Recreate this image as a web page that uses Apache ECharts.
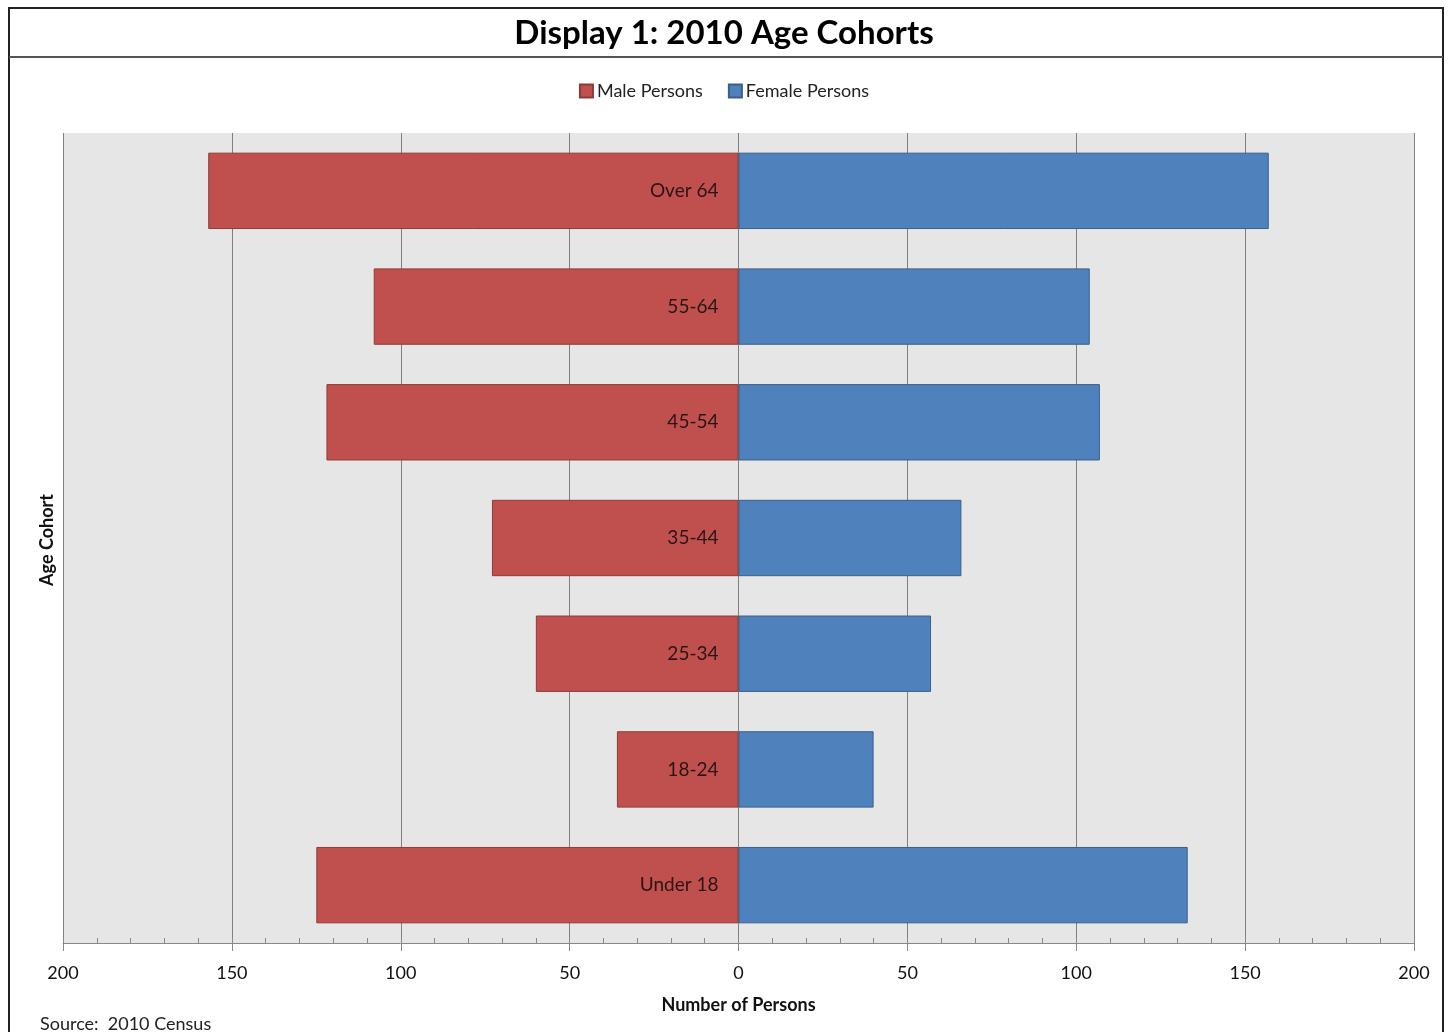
<!DOCTYPE html>
<html lang="en">
<head>
    <meta charset="UTF-8">
    <title>Display 1: 2010 Age Cohorts</title>
    <script src="https://cdn.jsdelivr.net/npm/echarts@6/dist/echarts.min.js"></script>
    <style>
        html, body { margin: 0; padding: 0; background: #fff; }
        #main { width: 1448px; height: 1032px; }
    </style>
</head>
<body>
<div id="main"></div>
<script>
    // age groups, bottom to top
    var cohorts = ['Under 18', '18-24', '25-34', '35-44', '45-54', '55-64', 'Over 64'];
    var malePersons = [125, 36, 60, 73, 122, 108, 157];
    var femalePersons = [133, 40, 57, 66, 107, 104, 157];
    var xTicks = [200, 150, 100, 50, 0, 50, 100, 150, 200];

    var font = 'Lato';
    var myChart = echarts.init(document.getElementById('main'));

    // males go left of zero
    var maleLeft = malePersons.map(function (v) { return -v; });

    var option = {
        animation: false,
        title: {
            text: 'Display 1: 2010 Age Cohorts',
            left: 'center',
            top: 12,
            textStyle: { fontFamily: font, fontSize: 33, fontWeight: 'bold', color: '#000' }
        },
        legend: {
            top: 77,
            left: 'center',
            itemWidth: 13,
            itemHeight: 13,
            itemGap: 25,
            icon: 'rect',
            textStyle: { fontFamily: font, fontSize: 18, color: '#222', padding: [0, 0, 0, -1] },
            data: ['Male Persons', 'Female Persons']
        },
        grid: { left: 63, right: 34, top: 133, bottom: 89, containLabel: false, outerBoundsMode: 'none',
            show: true, backgroundColor: '#e6e6e6', borderWidth: 0 },
        xAxis: [{
            type: 'value',
            min: -200,
            max: 200,
            interval: 50,
            name: 'Number of Persons',
            nameLocation: 'middle',
            nameGap: 53,
            nameTextStyle: { fontFamily: font, fontSize: 18, fontWeight: 'bold', color: '#111' },
            axisLine: { show: true, lineStyle: { color: '#888', width: 1 } },
            axisTick: { show: true, inside: false, length: 8, lineStyle: { color: '#888' } },
            axisLabel: {
                margin: 21,
                fontFamily: font, fontSize: 18, color: '#111',
                formatter: function (v) { return xTicks[(v + 200) / 50]; }
            },
            splitLine: { show: true, lineStyle: { color: '#808080', width: 1 } }
        }, {
            // minor ticks pointing into the plot
            type: 'value',
            position: 'bottom',
            min: -200,
            max: 200,
            interval: 10,
            axisLine: { show: false },
            axisTick: { show: true, inside: true, length: 5, lineStyle: { color: '#888' } },
            axisLabel: { show: false },
            splitLine: { show: false }
        }],
        yAxis: {
            type: 'category',
            data: cohorts,
            axisLine: { show: false },
            axisTick: { show: false },
            axisLabel: { show: false },
            splitLine: { show: false }
        },
        series: [{
            name: 'Male Persons',
            type: 'bar',
            data: maleLeft,
            barWidth: '66%',
            barGap: '-100%',
            itemStyle: { color: '#c0504d', borderColor: '#8f3a38', borderWidth: 1 }
        }, {
            name: 'Female Persons',
            type: 'bar',
            data: femalePersons,
            barWidth: '66%',
            itemStyle: { color: '#4f81bd', borderColor: '#3b5f8a', borderWidth: 1 },
            // cohort names sit just left of zero, over the male bars
            label: {
                show: true,
                position: 'left',
                distance: 20,
                fontFamily: font, fontSize: 19, color: '#2a1515',
                formatter: function (p) { return p.name; }
            }
        }],
        graphic: [{
            type: 'rect',
            shape: { x: 9, y: 8, width: 1434, height: 1040 },
            style: { fill: null, stroke: '#222', lineWidth: 2 },
            z: 100
        }, {
            type: 'line',
            shape: { x1: 9, y1: 57, x2: 1443, y2: 57 },
            style: { stroke: '#555', lineWidth: 2 },
            z: 100
        }, {
            type: 'text',
            x: 47,
            y: 540,
            rotation: Math.PI / 2,
            style: { text: 'Age Cohort', font: 'bold 18px Lato', fill: '#111', align: 'center', verticalAlign: 'middle' }
        }, {
            type: 'text',
            left: 40,
            top: 1015,
            style: { text: 'Source:  2010 Census', font: '18px Lato', fill: '#222' }
        }]
    };
    myChart.setOption(option);
</script>
</body>
</html>
